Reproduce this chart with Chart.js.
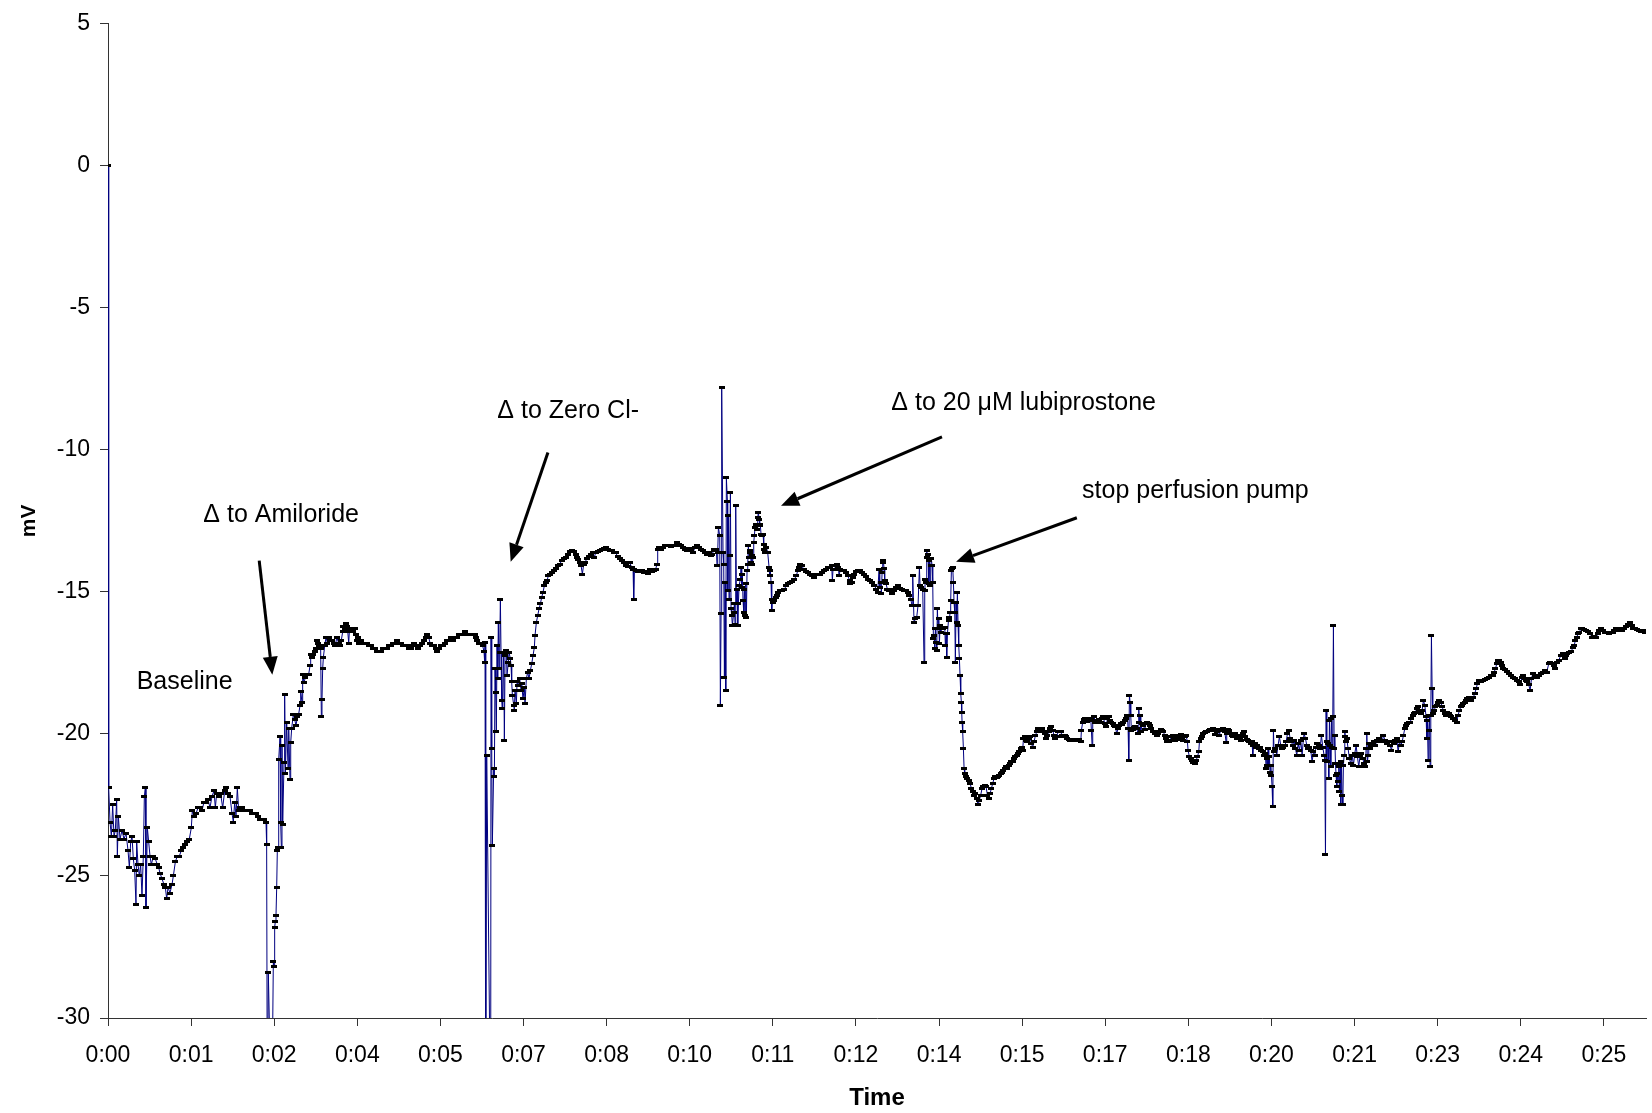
<!DOCTYPE html>
<html>
<head>
<meta charset="utf-8">
<title>mV trace</title>
<script src="https://cdn.jsdelivr.net/npm/chart.js@4.4.1/dist/chart.umd.min.js"></script>
<style>
	body { margin: 0; background: #fff; }
	canvas { display: block; }
</style>
</head>
<body>
<canvas id="line-chart" width="1652" height="1113"></canvas>
<script>
// x tick labels (h:mm) and the time between two labelled ticks, in minutes
var tickLabels = ['0:00','0:01','0:02','0:04','0:05','0:07','0:08','0:10','0:11','0:12','0:14','0:15','0:17','0:18','0:20','0:21','0:23','0:24','0:25'];
var tickStep = 1.44;
var timeMax = 26.65;
var yTicks = { min: -30, max: 5, step: 5 };

// trace, [minutes, mV] ; -34 = below the axis (clipped)
var baseline = [
	[0,0],[0.012,-21.9],[0.035,-23.1],[0.058,-23.6],[0.081,-22.5],[0.104,-23.6],[0.127,-23.4],[0.150,-22.3],
	[0.162,-24.3],[0.179,-22.9],[0.208,-23.7],[0.243,-23.4],[0.277,-23.7],[0.312,-23.5],[0.347,-24.1],[0.370,-24.7],
	[0.393,-23.8],[0.416,-23.6],[0.439,-24.4],[0.462,-24.8],[0.485,-26.0],[0.497,-23.8],[0.520,-24.6],[0.543,-25.0],
	[0.566,-24.6],[0.589,-25.7],[0.612,-24.3],[0.630,-22.2],[0.647,-21.9],[0.658,-26.1],[0.682,-23.3],[0.705,-23.8],
	[0.728,-24.3],[0.751,-24.6],[0.786,-24.3],[0.820,-24.4],[0.855,-24.6],[0.878,-24.7],[0.901,-24.9],[0.936,-25.1],
	[0.970,-25.3],[0.993,-25.4],[1.017,-25.8],[1.040,-25.4],[1.074,-25.6],[1.109,-25.3],[1.132,-25.0],[1.167,-24.5],
	[1.201,-24.3],[1.236,-24.3],[1.271,-24.1],[1.305,-24.0],[1.340,-23.9],[1.375,-23.8],[1.409,-23.7],[1.444,-23.3],
	[1.461,-22.7],[1.490,-22.9],[1.525,-22.8],[1.560,-22.6],[1.594,-22.6],[1.629,-22.7],[1.663,-22.4],[1.698,-22.4],
	[1.733,-22.3],[1.767,-22.6],[1.802,-22.2],[1.837,-22.0],[1.860,-22.6],[1.883,-22.1],[1.918,-22.2],[1.952,-22.1],
	[1.987,-22.6],[2.022,-22.0],[2.045,-21.9],[2.079,-22.1],[2.114,-22.2],[2.149,-22.8],[2.172,-23.1],[2.195,-22.4],
	[2.218,-22.9],[2.241,-21.9],[2.264,-22.7],[2.287,-22.6],[2.322,-22.6],[2.357,-22.7],[2.391,-22.7],[2.426,-22.7],
	[2.461,-22.7],[2.495,-22.8],[2.530,-22.8],[2.565,-22.8],[2.599,-22.9],[2.634,-23.0],[2.669,-23.0],[2.703,-23.0],
	[2.738,-23.1],[2.749,-23.9],[2.761,-34],[2.778,-28.4],[2.836,-34],[2.865,-28.0],[2.877,-28.2],[2.888,-26.8],
	[2.900,-26.6],[2.911,-26.4],[2.923,-25.4],[2.934,-24.1],[2.946,-24.0],[2.958,-20.9],[2.981,-20.1],[2.992,-23.1],
	[3.004,-24.0],[3.015,-20.4],[3.027,-23.2],[3.050,-21.0],[3.061,-18.6],[3.073,-21.4],[3.096,-19.6],[3.119,-21.2],
	[3.131,-19.8],[3.154,-21.6]
];

var amiloride = [
	[3.166,-20.3],[3.183,-19.8],[3.212,-19.3],[3.235,-19.5],[3.258,-19.7],[3.281,-19.4],[3.304,-19.3],[3.327,-19.0],
	[3.339,-18.5],[3.362,-18.9],[3.373,-17.9],[3.397,-18.2],[3.420,-18.0],[3.443,-17.9],[3.477,-17.9],[3.501,-17.6],
	[3.512,-17.2],[3.535,-17.3],[3.558,-17.2],[3.581,-17.1],[3.605,-17.0],[3.616,-16.7],[3.639,-16.8],[3.662,-16.9],
	[3.685,-17.0],[3.697,-19.4],[3.708,-18.8],[3.720,-17.7],[3.732,-17.3],[3.755,-16.9],[3.778,-16.6],[3.801,-16.8],
	[3.824,-16.6],[3.847,-16.7],[3.882,-16.7],[3.916,-16.8],[3.940,-16.9],[3.963,-16.6],[3.997,-16.8],[4.020,-16.9],
	[4.043,-16.7],[4.067,-16.4],[4.078,-16.2],[4.101,-16.3],[4.124,-16.1],[4.147,-16.2],[4.171,-16.8],[4.182,-16.4],
	[4.205,-16.3],[4.240,-16.4],[4.275,-16.3],[4.298,-16.5],[4.309,-16.7],[4.332,-16.6],[4.355,-16.8],[4.390,-16.7],
	[4.425,-16.8],[4.459,-16.8],[4.494,-16.8],[4.529,-16.9],[4.563,-16.9],[4.598,-17.0],[4.633,-17.0],[4.667,-17.1],
	[4.702,-17.1],[4.725,-17.1],[4.760,-17.0],[4.794,-17.0],[4.829,-17.0],[4.864,-16.9],[4.898,-16.9],[4.933,-16.8],
	[4.968,-16.8],[5.002,-16.7],[5.037,-16.8],[5.072,-16.8],[5.106,-16.9],[5.141,-16.9],[5.176,-16.9],[5.210,-17.0],
	[5.245,-17.0],[5.268,-16.9],[5.303,-16.8],[5.337,-16.9],[5.372,-17.0],[5.407,-16.9],[5.441,-16.8],[5.476,-16.7],
	[5.511,-16.6],[5.534,-16.5],[5.557,-16.6],[5.580,-16.8],[5.615,-16.9],[5.649,-16.9],[5.684,-17.0],[5.707,-17.1],
	[5.730,-17.0],[5.765,-16.9],[5.799,-16.9],[5.834,-16.8],[5.869,-16.7],[5.903,-16.7],[5.938,-16.6],[5.973,-16.7],
	[6.007,-16.6],[6.042,-16.6],[6.076,-16.5],[6.111,-16.5],[6.146,-16.5],[6.181,-16.4],[6.204,-16.5],[6.227,-16.5],
	[6.262,-16.5],[6.296,-16.5],[6.330,-16.5],[6.354,-16.5],[6.377,-16.6],[6.400,-16.7],[6.435,-16.8],[6.469,-16.8],
	[6.492,-16.9],[6.516,-17.1],[6.527,-17.5]
];

var zeroChloride = [
	[6.533,-16.77],[6.545,-34],[6.562,-20.75],[6.631,-34],[6.637,-16.59],[6.649,-20.52],[6.660,-23.91],[6.683,-21.22],
	[6.695,-21.51],[6.706,-17.71],[6.718,-18.53],[6.729,-19.93],[6.741,-16.89],[6.752,-18.06],[6.764,-16.07],[6.776,-17.71],
	[6.787,-17.12],[6.799,-15.25],[6.810,-17.12],[6.822,-18.82],[6.833,-19.11],[6.856,-17.12],[6.868,-20.22],[6.880,-17.24],
	[6.903,-17.06],[6.914,-17.94],[6.937,-17.47],[6.949,-17.12],[6.972,-17.36],[6.984,-17.59],[6.995,-18.17],[7.007,-18.64],
	[7.030,-18.99],[7.041,-19.17],[7.053,-18.47],[7.076,-18.94],[7.088,-18.17],[7.111,-18.29],[7.134,-18.06],[7.157,-18.47],
	[7.168,-18.23],[7.191,-18.76],[7.215,-18.35],[7.226,-18.94],[7.249,-18.06],[7.272,-17.82],[7.295,-18.06],[7.319,-17.76],
	[7.342,-17.53],[7.365,-17.24],[7.388,-16.95],[7.399,-16.54],[7.423,-16.07],[7.446,-15.83],[7.469,-15.60],[7.492,-15.42],
	[7.515,-15.19],[7.538,-15.01],[7.561,-14.78],[7.584,-14.66],[7.607,-14.61],[7.630,-14.43],[7.654,-14.37],[7.688,-14.31],
	[7.723,-14.25],[7.758,-14.17],[7.792,-14.08],[7.827,-14.02],[7.861,-13.90],[7.896,-13.82],[7.931,-13.79],[7.965,-13.67],
	[8.000,-13.59],[8.035,-13.55],[8.069,-13.58],[8.104,-13.67],[8.127,-13.79],[8.150,-13.87],[8.173,-13.96],[8.196,-14.06],
	[8.220,-14.37],[8.243,-14.02],[8.266,-13.96],[8.300,-13.82],[8.335,-13.75],[8.370,-13.67],[8.404,-13.61],[8.427,-13.79],
	[8.451,-13.61],[8.485,-13.59],[8.520,-13.55],[8.555,-13.49],[8.589,-13.46],[8.624,-13.43],[8.659,-13.49],[8.693,-13.55],
	[8.728,-13.55],[8.763,-13.61],[8.797,-13.63],[8.832,-13.75],[8.867,-13.82],[8.901,-13.90],[8.936,-13.98],[8.971,-14.06],
	[9.005,-14.10],[9.040,-13.96],[9.074,-14.14],[9.098,-14.20],[9.109,-15.25],[9.121,-14.22],[9.144,-14.25],[9.178,-14.29],
	[9.213,-14.29],[9.248,-14.25],[9.282,-14.31],[9.317,-14.29],[9.352,-14.34],[9.386,-14.22],[9.421,-14.29],[9.456,-14.25],
	[9.490,-14.20],[9.513,-14.02],[9.525,-13.49],[9.548,-13.43],[9.583,-13.49],[9.617,-13.43],[9.652,-13.38],[9.686,-13.35],
	[9.721,-13.38],[9.756,-13.40],[9.791,-13.38],[9.825,-13.35],[9.860,-13.26],[9.895,-13.32],[9.929,-13.38],[9.964,-13.43]
];

var lubiprostone = [
	[9.999,-13.49],[10.034,-13.55],[10.068,-13.47],[10.103,-13.55],[10.138,-13.61],[10.172,-13.43],[10.207,-13.37],[10.242,-13.43],
	[10.276,-13.49],[10.311,-13.55],[10.346,-13.61],[10.380,-13.67],[10.415,-13.61],[10.450,-13.73],[10.473,-13.67],[10.496,-13.49],
	[10.519,-13.55],[10.542,-13.49],[10.553,-14.08],[10.565,-13.61],[10.577,-12.73],[10.600,-13.02],[10.611,-18.99],[10.623,-15.77],
	[10.634,-7.82],[10.657,-13.61],[10.669,-14.02],[10.681,-18.00],[10.692,-14.66],[10.704,-18.47],[10.715,-10.98],[10.733,-11.80],
	[10.738,-14.96],[10.750,-12.32],[10.761,-15.25],[10.773,-13.73],[10.785,-11.50],[10.796,-15.60],[10.808,-15.83],[10.819,-16.18],
	[10.842,-15.72],[10.854,-15.42],[10.865,-16.13],[10.877,-11.97],[10.889,-15.42],[10.900,-14.90],[10.912,-16.18],[10.923,-15.42],
	[10.935,-14.78],[10.958,-14.55],[10.969,-14.14],[10.981,-14.84],[10.992,-14.37],[11.004,-15.31],[11.016,-15.72],[11.027,-14.90],
	[11.039,-15.83],[11.050,-14.72],[11.062,-15.89],[11.073,-14.25],[11.085,-14.02],[11.096,-13.37],[11.108,-13.79],[11.120,-13.55],
	[11.131,-13.61],[11.143,-13.96],[11.154,-13.73],[11.166,-14.02],[11.177,-13.79],[11.189,-13.26],[11.200,-13.02],[11.212,-12.73],
	[11.224,-12.67],[11.235,-12.61],[11.247,-12.79],[11.258,-12.38],[11.270,-12.20],[11.281,-12.44],[11.293,-12.61],[11.304,-12.67],
	[11.316,-12.97],[11.327,-13.02],[11.351,-12.97],[11.362,-13.32],[11.374,-13.49],[11.385,-13.61],[11.408,-13.43],[11.431,-13.61],
	[11.455,-14.14],[11.466,-14.43],[11.478,-14.25],[11.489,-14.66],[11.501,-15.66],[11.512,-15.25],[11.524,-15.36],[11.547,-15.31],
	[11.570,-15.19],[11.593,-15.13],[11.616,-15.01],[11.651,-14.96],[11.686,-14.96],[11.720,-14.90],[11.755,-14.78],[11.790,-14.72],
	[11.824,-14.66],[11.859,-14.64],[11.894,-14.55],[11.928,-14.43],[11.951,-14.25],[11.974,-14.14],[11.997,-14.05],[12.021,-14.08],
	[12.055,-14.20],[12.090,-14.29],[12.125,-14.31],[12.159,-14.37],[12.194,-14.43],[12.229,-14.49],[12.263,-14.40],[12.298,-14.37],
	[12.333,-14.37],[12.367,-14.31],[12.402,-14.25],[12.436,-14.20],[12.471,-14.14],[12.506,-14.14],[12.540,-14.08],[12.552,-14.60],
	[12.563,-14.20],[12.587,-14.20],[12.610,-14.08],[12.633,-14.05],[12.656,-14.14],[12.667,-14.43],[12.690,-14.20],[12.714,-14.25],
	[12.748,-14.25],[12.783,-14.31],[12.818,-14.43],[12.852,-14.60],[12.864,-14.72],[12.887,-14.66],[12.910,-14.49],[12.933,-14.37],
	[12.968,-14.29],[13.003,-14.25],[13.037,-14.25],[13.072,-14.31],[13.107,-14.37],[13.141,-14.45],[13.176,-14.55],[13.210,-14.60],
	[13.245,-14.66],[13.280,-14.78],[13.314,-14.90],[13.337,-15.01],[13.361,-14.20],[13.372,-14.84]
];

var pumpStop = [
	[13.390,-14.66],[13.401,-15.07],[13.413,-14.31],[13.424,-13.96],[13.436,-13.90],[13.447,-14.19],[13.459,-14.60],[13.482,-14.72],
	[13.505,-14.90],[13.528,-14.96],[13.551,-14.92],[13.586,-15.07],[13.621,-14.96],[13.655,-14.84],[13.690,-14.78],[13.725,-14.87],
	[13.759,-14.90],[13.794,-14.96],[13.829,-14.96],[13.863,-15.01],[13.886,-15.13],[13.909,-15.25],[13.932,-15.48],[13.944,-14.43],
	[13.967,-16.07],[13.990,-15.95],[14.013,-15.89],[14.036,-15.48],[14.060,-14.14],[14.071,-14.78],[14.094,-14.84],[14.117,-14.90],
	[14.140,-17.47],[14.152,-14.96],[14.164,-14.55],[14.175,-14.66],[14.187,-13.55],[14.198,-13.79],[14.210,-13.67],[14.221,-14.72],
	[14.233,-13.90],[14.244,-14.78],[14.256,-14.08],[14.267,-13.84],[14.279,-14.08],[14.291,-14.66],[14.302,-16.65],[14.314,-16.54],
	[14.325,-17.00],[14.337,-16.30],[14.348,-16.77],[14.360,-17.06],[14.371,-15.60],[14.383,-16.30],[14.395,-15.95],[14.406,-16.83],
	[14.418,-16.19],[14.429,-16.42],[14.452,-16.24],[14.475,-16.30],[14.499,-16.24],[14.510,-16.89],[14.522,-16.48],[14.533,-17.30],
	[14.545,-16.48],[14.568,-15.89],[14.579,-16.01],[14.591,-15.72],[14.602,-15.31],[14.614,-14.25],[14.626,-14.19],[14.637,-14.14],
	[14.649,-14.66],[14.660,-15.37],[14.672,-15.72],[14.683,-17.47],[14.695,-15.37],[14.706,-16.07],[14.718,-15.01],[14.730,-16.19],
	[14.741,-16.89],[14.753,-17.36],[14.764,-17.94],[14.776,-18.58],[14.787,-18.88],[14.793,-19.23],[14.799,-19.58],[14.810,-19.93],
	[14.822,-20.52],[14.834,-21.22],[14.845,-21.39],[14.868,-21.51],[14.891,-21.57],[14.914,-21.63],[14.938,-21.74],[14.961,-21.92],
	[14.984,-22.04],[15.007,-22.15],[15.030,-22.10],[15.053,-22.27],[15.076,-22.50],[15.099,-22.33],[15.122,-22.15],[15.145,-21.92],
	[15.169,-21.86],[15.192,-21.80],[15.215,-21.86],[15.238,-22.15],[15.261,-22.27],[15.284,-22.10],[15.307,-21.92],[15.330,-21.74],
	[15.353,-21.57],[15.376,-21.51],[15.400,-21.54],[15.423,-21.51],[15.446,-21.45],[15.469,-21.39],[15.492,-21.36],[15.515,-21.28],
	[15.538,-21.22],[15.561,-21.16],[15.584,-21.22],[15.607,-21.10],[15.631,-21.04],[15.654,-20.98],[15.677,-20.96],[15.700,-20.87],
	[15.723,-20.81],[15.746,-20.75],[15.769,-20.69],[15.792,-20.61],[15.815,-20.52],[15.839,-20.46],[15.850,-20.57],[15.862,-20.16],
	[15.885,-20.10],[15.908,-20.22],[15.931,-20.28],[15.954,-20.16],[15.977,-20.10],[16.000,-20.34],[16.023,-20.46],[16.046,-20.28],
	[16.070,-20.05],[16.093,-19.93],[16.116,-19.81],[16.139,-19.87],[16.162,-19.81],[16.185,-19.81],[16.208,-19.93],[16.231,-19.99],
	[16.254,-20.16],[16.278,-20.05],[16.301,-19.93],[16.324,-19.81],[16.347,-19.75],[16.370,-19.87],[16.393,-20.05],[16.416,-20.16],
	[16.439,-20.10],[16.462,-19.93],[16.486,-19.91],[16.509,-19.93],[16.532,-20.05],[16.555,-20.10],[16.578,-20.05],[16.601,-20.10],
	[16.624,-20.16],[16.647,-20.19],[16.670,-20.22],[16.693,-20.23],[16.716,-20.22],[16.740,-20.19],[16.763,-20.22],[16.786,-20.19],
	[16.809,-20.22],[16.832,-20.19]
];

var stopped = [
	[16.856,-20.28],[16.867,-19.87],[16.890,-19.58],[16.913,-19.49],[16.936,-19.46],[16.960,-19.56],[16.983,-19.49],[17.006,-19.44],
	[17.029,-19.46],[17.040,-19.87],[17.052,-20.40],[17.063,-19.52],[17.087,-19.40],[17.110,-19.58],[17.133,-19.60],[17.156,-19.56],
	[17.179,-19.49],[17.202,-19.58],[17.225,-19.44],[17.248,-19.40],[17.271,-19.64],[17.295,-19.75],[17.318,-19.46],[17.341,-19.40],
	[17.364,-19.52],[17.387,-19.58],[17.410,-19.64],[17.433,-19.70],[17.456,-19.75],[17.479,-19.99],[17.502,-19.81],[17.526,-19.70],
	[17.549,-19.64],[17.572,-19.67],[17.595,-19.58],[17.618,-19.52],[17.641,-19.46],[17.664,-19.35],[17.676,-19.81],[17.687,-20.93],
	[17.699,-18.64],[17.710,-18.88],[17.722,-19.35],[17.733,-19.87],[17.757,-19.84],[17.780,-19.79],[17.803,-19.75],[17.826,-19.81],
	[17.849,-19.99],[17.861,-19.11],[17.872,-19.58],[17.884,-19.35],[17.895,-19.93],[17.918,-19.64],[17.941,-19.70],[17.965,-19.84],
	[17.988,-19.64],[18.011,-19.58],[18.034,-19.64],[18.057,-19.70],[18.080,-19.81],[18.103,-19.93],[18.126,-19.91],[18.149,-19.99],
	[18.172,-20.07],[18.196,-19.99],[18.219,-19.93],[18.242,-19.84],[18.265,-19.87],[18.288,-19.93],[18.311,-20.05],[18.334,-20.16],
	[18.357,-20.26],[18.380,-20.28],[18.404,-20.22],[18.427,-20.10],[18.450,-20.05],[18.473,-20.16],[18.496,-20.22],[18.519,-20.19],
	[18.542,-20.10],[18.565,-20.05],[18.588,-20.02],[18.611,-20.16],[18.635,-20.22],[18.658,-20.10],[18.681,-20.07],[18.704,-20.28],
	[18.715,-20.57],[18.738,-20.81],[18.762,-20.87],[18.785,-20.93],[18.808,-21.01],[18.831,-21.04],[18.854,-20.93],[18.877,-20.81],
	[18.900,-20.63],[18.912,-20.28],[18.935,-20.16],[18.958,-20.10],[18.981,-19.99],[19.004,-19.95],[19.027,-19.91],[19.050,-19.91],
	[19.073,-19.87],[19.097,-19.84],[19.120,-19.87],[19.143,-19.81],[19.166,-19.84],[19.189,-20.02],[19.212,-19.93],[19.235,-19.84],
	[19.258,-20.05],[19.281,-19.84],[19.305,-19.87],[19.328,-19.81],[19.351,-19.91],[19.374,-20.30],[19.385,-19.99],[19.408,-19.84],
	[19.432,-19.87],[19.455,-19.99],[19.478,-20.05],[19.501,-20.10],[19.524,-19.99],[19.547,-20.10],[19.570,-20.16],[19.593,-20.07],
	[19.616,-20.16],[19.640,-20.22],[19.663,-19.99],[19.686,-19.93],[19.709,-20.10],[19.732,-20.19],[19.755,-20.22],[19.778,-20.28],
	[19.801,-20.34],[19.824,-20.28],[19.836,-20.75],[19.848,-20.40],[19.871,-20.34],[19.894,-20.46],[19.917,-20.40],[19.940,-20.52],
	[19.963,-20.46],[19.986,-20.57],[20.009,-20.63],[20.032,-20.75],[20.055,-20.69],[20.067,-21.22],[20.079,-20.87],[20.090,-21.10],
	[20.102,-20.52],[20.113,-21.10],[20.125,-20.81],[20.136,-21.34],[20.148,-21.10],[20.159,-21.45],[20.171,-21.86],[20.182,-22.56],
	[20.194,-19.87],[20.206,-20.63],[20.229,-20.52],[20.252,-20.75],[20.275,-20.40],[20.298,-20.10],[20.321,-20.40],[20.344,-20.52],
	[20.367,-20.46]
];

var drift = [
	[20.391,-20.40],[20.414,-20.28],[20.437,-19.99],[20.460,-19.87],[20.483,-20.16],[20.506,-20.28],[20.529,-20.40],[20.553,-20.22],
	[20.576,-20.52],[20.599,-20.75],[20.622,-20.34],[20.645,-20.57],[20.668,-20.22],[20.691,-20.75],[20.714,-20.16],[20.726,-19.99],
	[20.749,-20.16],[20.772,-20.40],[20.795,-20.52],[20.818,-20.46],[20.841,-20.57],[20.864,-20.98],[20.888,-20.63],[20.911,-20.75],
	[20.934,-20.46],[20.957,-20.34],[20.980,-20.40],[21.003,-20.52],[21.026,-20.05],[21.049,-20.46],[21.072,-20.75],[21.084,-20.92],
	[21.096,-24.26],[21.107,-19.17],[21.119,-20.98],[21.130,-20.28],[21.142,-20.34],[21.153,-21.57],[21.165,-19.52],[21.176,-20.40],
	[21.188,-21.16],[21.199,-19.46],[21.211,-20.46],[21.223,-19.40],[21.234,-16.18],[21.246,-20.52],[21.257,-20.05],[21.269,-21.04],
	[21.280,-21.45],[21.292,-21.86],[21.303,-21.39],[21.315,-21.69],[21.327,-21.16],[21.338,-22.04],[21.350,-21.04],[21.361,-22.50],
	[21.373,-20.98],[21.384,-22.15],[21.396,-22.50],[21.407,-21.10],[21.419,-20.75],[21.431,-19.93],[21.442,-20.10],[21.454,-20.28],
	[21.465,-20.16],[21.488,-20.52],[21.511,-20.87],[21.535,-21.04],[21.558,-20.75],[21.581,-21.10],[21.604,-20.69],[21.627,-20.40],
	[21.650,-20.81],[21.673,-21.16],[21.696,-20.75],[21.719,-20.69],[21.742,-20.87],[21.766,-21.04],[21.789,-21.16],[21.800,-20.52],
	[21.812,-19.99],[21.823,-20.98],[21.835,-20.75],[21.846,-20.34],[21.870,-20.52],[21.893,-20.40],[21.916,-20.34],[21.939,-20.28],
	[21.962,-20.40],[21.985,-20.22],[22.008,-20.28],[22.031,-20.16],[22.054,-20.22],[22.077,-20.28],[22.101,-20.05],[22.124,-20.22],
	[22.147,-20.28],[22.170,-20.34],[22.193,-20.28],[22.216,-20.40],[22.239,-20.57],[22.262,-20.28],[22.285,-20.34],[22.308,-20.22],
	[22.332,-20.16],[22.355,-20.63],[22.378,-20.28],[22.401,-20.40],[22.424,-20.28],[22.447,-20.05],[22.470,-19.81],[22.493,-19.70],
	[22.516,-19.64],[22.539,-19.58],[22.563,-19.58],[22.586,-19.46],[22.609,-19.34],[22.632,-19.29],[22.655,-19.23],[22.678,-19.11],
	[22.701,-19.05],[22.724,-19.17],[22.747,-19.29],[22.771,-19.17],[22.794,-18.82],[22.817,-18.99],[22.840,-19.40],[22.851,-20.16],
	[22.863,-19.52],[22.874,-20.92],[22.886,-19.87],[22.898,-19.34],[22.909,-21.16],[22.921,-19.34],[22.932,-16.54],[22.944,-18.41],
	[22.955,-19.29],[22.978,-19.17],[23.002,-19.05],[23.025,-18.99],[23.048,-18.88],[23.071,-18.82],[23.094,-18.88],[23.117,-19.05],
	[23.140,-19.17],[23.163,-19.29],[23.186,-19.34],[23.210,-19.23],[23.233,-19.29],[23.256,-19.34],[23.279,-19.40],[23.302,-19.46],
	[23.325,-19.46],[23.348,-19.52],[23.371,-19.58],[23.394,-19.34],[23.418,-19.17],[23.441,-19.05],[23.464,-18.99],[23.487,-18.93],
	[23.510,-18.88],[23.533,-18.82],[23.556,-18.76],[23.579,-18.70]
];

var recovery = [
	[23.625,-18.82],[23.660,-18.70],[23.683,-18.58],[23.706,-18.41],[23.729,-18.23],[23.752,-18.12],[23.787,-18.17],[23.821,-18.12],
	[23.856,-18.08],[23.891,-18.06],[23.925,-18.00],[23.960,-17.94],[23.995,-17.94],[24.018,-17.82],[24.041,-17.71],[24.064,-17.53],
	[24.087,-17.41],[24.110,-17.41],[24.133,-17.47],[24.156,-17.59],[24.180,-17.68],[24.214,-17.73],[24.249,-17.80],[24.284,-17.88],
	[24.318,-17.94],[24.353,-18.00],[24.388,-18.06],[24.422,-18.12],[24.457,-18.17],[24.468,-18.27],[24.503,-18.00],[24.526,-17.94],
	[24.549,-18.06],[24.572,-18.12],[24.595,-18.17],[24.619,-18.27],[24.642,-18.47],[24.665,-18.06],[24.688,-17.88],[24.723,-17.94],
	[24.757,-18.00],[24.792,-17.94],[24.827,-17.88],[24.861,-17.82],[24.896,-17.77],[24.930,-17.82],[24.965,-17.53],[24.988,-17.47],
	[25.023,-17.53],[25.058,-17.59],[25.081,-17.71],[25.104,-17.47],[25.138,-17.41],[25.173,-17.24],[25.208,-17.18],[25.242,-17.36],
	[25.265,-17.24],[25.289,-17.18],[25.323,-17.14],[25.358,-17.10],[25.381,-16.95],[25.404,-16.89],[25.427,-16.71],[25.450,-16.59],
	[25.473,-16.48],[25.496,-16.42],[25.520,-16.30],[25.543,-16.30],[25.577,-16.33],[25.612,-16.36],[25.647,-16.40],[25.681,-16.48],
	[25.716,-16.59],[25.751,-16.56],[25.785,-16.59],[25.820,-16.48],[25.843,-16.36],[25.866,-16.30],[25.901,-16.36],[25.935,-16.42],
	[25.970,-16.44],[26.005,-16.48],[26.039,-16.44],[26.074,-16.42],[26.097,-16.36],[26.132,-16.30],[26.166,-16.36],[26.201,-16.30],
	[26.236,-16.36],[26.270,-16.28],[26.305,-16.21],[26.340,-16.16],[26.374,-16.09],[26.409,-16.19],[26.432,-16.28],[26.455,-16.30],
	[26.490,-16.33],[26.524,-16.36],[26.559,-16.40],[26.594,-16.36],[26.628,-16.42],[26.650,-16.44]
];

// text notes and arrows, placed in data units (minutes, mV)
var notes = [
	{ text: 'Baseline', x: 0.497, y: -18.17 },
	{ text: 'Δ to Amiloride', x: 1.652, y: -12.31, from: [2.620, -13.90], to: [2.847, -17.92] },
	{ text: 'Δ to Zero Cl-', x: 6.746, y: -8.65, from: [7.623, -10.09], to: [6.978, -13.94] },
	{ text: 'Δ to 20 μM lubiprostone', x: 13.574, y: -8.36, from: [14.451, -9.54], to: [11.662, -11.97] },
	{ text: 'stop perfusion pump', x: 16.879, y: -11.46, from: [16.788, -12.39], to: [14.695, -13.94] }
];

var FONT = "'Liberation Sans', Arial, sans-serif";

function drawArrow(ctx, x1, y1, x2, y2){
	var a = Math.atan2(y2 - y1, x2 - x1);
	var head = 18, half = 7.5;
	var bx = x2 - head * Math.cos(a), by = y2 - head * Math.sin(a);
	ctx.lineWidth = 3;
	ctx.beginPath();
	ctx.moveTo(x1, y1);
	ctx.lineTo(bx, by);
	ctx.stroke();
	ctx.beginPath();
	ctx.moveTo(x2, y2);
	ctx.lineTo(bx + half * Math.sin(a), by - half * Math.cos(a));
	ctx.lineTo(bx - half * Math.sin(a), by + half * Math.cos(a));
	ctx.closePath();
	ctx.fill();
}

var notesPlugin = {
	id: 'notes',
	afterDraw: function(chart){
		var ctx = chart.ctx;
		var xs = chart.scales.x, ys = chart.scales.y;
		ctx.save();
		ctx.fillStyle = '#000';
		ctx.strokeStyle = '#000';
		ctx.font = '25px ' + FONT;
		ctx.textBaseline = 'middle';
		ctx.textAlign = 'left';
		for (var n of notes){
			ctx.fillText(n.text, xs.getPixelForValue(n.x), ys.getPixelForValue(n.y));
			if (n.from){
				drawArrow(ctx, xs.getPixelForValue(n.from[0]), ys.getPixelForValue(n.from[1]),
					xs.getPixelForValue(n.to[0]), ys.getPixelForValue(n.to[1]));
			}
		}
		ctx.restore();
	}
};

function markerDash(){
	// small black dash like the Excel marker
	var c = document.createElement('canvas');
	c.width = 6; c.height = 3;
	var g = c.getContext('2d');
	g.fillStyle = '#000';
	g.fillRect(0, 0, 6, 3);
	return c;
}

function drawChart(){
	var trace = [].concat(baseline, amiloride, zeroChloride, lubiprostone, pumpStop, stopped, drift, recovery);
	var data = trace.map(function(p){ return { x: p[0], y: p[1] }; });

	Chart.defaults.font.family = FONT;
	Chart.defaults.color = '#000';

	new Chart(document.getElementById('line-chart'), {
		type: 'line',
		data: {
			datasets: [{
				label: 'mV',
				data: data,
				borderColor: '#000080',
				borderWidth: 1,
				tension: 0,
				pointStyle: markerDash(),
				pointRadius: 2,
				pointHoverRadius: 2
			}]
		},
		options: {
			responsive: false,
			animation: false,
			layout: { padding: { top: 15, right: 6, bottom: 0, left: 0 } },
			plugins: {
				legend: { display: false },
				tooltip: { enabled: false }
			},
			scales: {
				x: {
					type: 'linear',
					min: 0,
					max: timeMax,
					afterBuildTicks: function(scale){
						scale.ticks = tickLabels.map(function(l, i){ return { value: i * tickStep }; });
					},
					afterFit: function(scale){ scale.height = 95; },
					ticks: {
						autoSkip: false,
						maxRotation: 0,
						minRotation: 0,
						padding: 16,
						font: { size: 23 },
						callback: function(v, i){ return tickLabels[i]; }
					},
					grid: { drawOnChartArea: false, tickLength: 8, color: '#333' },
					border: { color: '#333', width: 1 },
					title: {
						display: true,
						text: 'Time',
						font: { size: 24, weight: 'bold' },
						padding: { top: 0, bottom: 0 }
					}
				},
				y: {
					min: yTicks.min,
					max: yTicks.max,
					afterFit: function(scale){ scale.width = 108; },
					ticks: {
						stepSize: yTicks.step,
						padding: 10,
						font: { size: 23 }
					},
					grid: { drawOnChartArea: false, tickLength: 8, color: '#333' },
					border: { color: '#333', width: 1 },
					title: {
						display: true,
						text: 'mV',
						font: { size: 21, weight: 'bold' },
						padding: { top: 17, bottom: 0 }
					}
				}
			}
		},
		plugins: [notesPlugin]
	});
}

drawChart();
</script>
</body>
</html>
